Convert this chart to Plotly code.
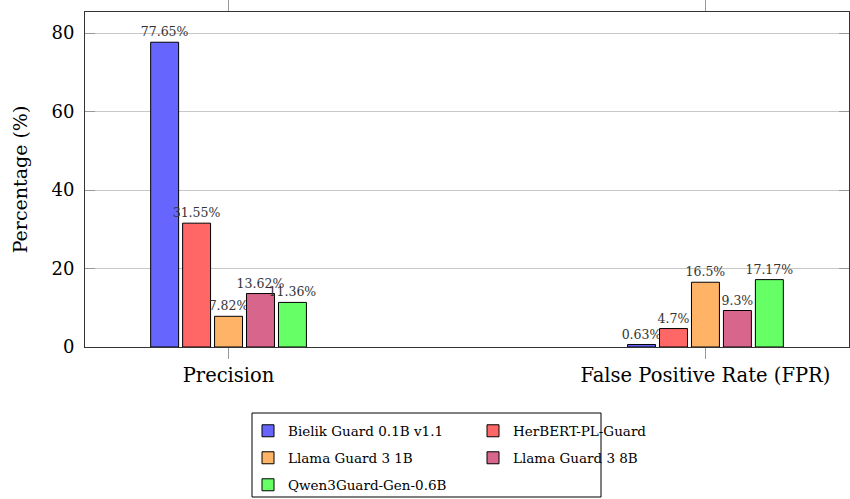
import plotly.graph_objects as go

categories = ["Precision", "False Positive Rate (FPR)"]
models = ["Bielik Guard 0.1B v1.1", "HerBERT-PL-Guard", "Llama Guard 3 1B", "Llama Guard 3 8B", "Qwen3Guard-Gen-0.6B"]
precision = [77.65, 31.55, 7.82, 13.62, 11.36]
fpr = [0.63, 4.7, 16.5, 9.3, 17.17]
colors = ["#6666FF", "#FF6666", "#FFB366", "#D8668C", "#66FF66"]
legend_rows = ["legend", "legend", "legend2", "legend2", "legend3"]

FONT = "DejaVu Serif"

fig = go.Figure()
for i, m in enumerate(models):
    vals = [precision[i], fpr[i]]
    fig.add_trace(go.Bar(
        x=[0, 1], y=vals, name=m, legend=legend_rows[i],
        marker=dict(color=colors[i], line=dict(color="black", width=1)),
        text=[f"{v:g}%" for v in vals], textposition="outside",
        textfont=dict(family=FONT, size=12.5, color="#333"),
        constraintext="none", cliponaxis=False,
    ))

W, H = 850, 499
L, R, T, B = 85, 1, 12, 152
pw, ph = W - L - R, H - T - B

def px2paper_x(px):
    return (px - L) / pw

def px2paper_y(py):
    return (H - B - py) / ph

leg_common = dict(
    orientation="h", xref="container", yref="container",
    xanchor="left", yanchor="middle", entrywidth=180,
    bgcolor="rgba(0,0,0,0)", borderwidth=0,
    font=dict(family=FONT, size=13.5), traceorder="normal",
)

fig.update_layout(
    width=W, height=H,
    margin=dict(l=L, r=R, t=T, b=B, autoexpand=False),
    paper_bgcolor="white", plot_bgcolor="white",
    barmode="group", bargap=0.665, bargroupgap=0.125,
    font=dict(family=FONT, color="black"),
    xaxis=dict(
        tickmode="array", tickvals=[0, 1], ticktext=categories,
        range=[-0.301, 1.301], showgrid=False, zeroline=False,
        ticks="outside", ticklen=11, tickcolor="#999", mirror="ticks",
        showline=True, linecolor="#333", linewidth=1,
        tickfont=dict(size=19.5), automargin=False,
    ),
    yaxis=dict(
        range=[0, 85.35], tickvals=[0, 20, 40, 60, 80],
        showgrid=True, gridcolor="#c8c8c8", zeroline=False,
        ticks="inside", ticklen=10, tickcolor="#999", mirror="ticks",
        showline=True, linecolor="#333", linewidth=1,
        tickfont=dict(size=18), automargin=False, ticklabelstandoff=6,
        title=dict(text="Percentage (%)", font=dict(size=19), standoff=18),
    ),
    legend=dict(leg_common, x=248 / W, y=1 - 431 / H),
    legend2=dict(leg_common, x=248 / W, y=1 - 458 / H),
    legend3=dict(leg_common, x=248 / W, y=1 - 485 / H),
    shapes=[dict(
        type="rect", xref="paper", yref="paper",
        x0=px2paper_x(252), x1=px2paper_x(601),
        y0=px2paper_y(497), y1=px2paper_y(413),
        line=dict(color="black", width=1), fillcolor="rgba(0,0,0,0)",
    )],
)

fig.write_html(
    "out.html",
    config={"responsive": False, "displayModeBar": False},
    post_script="document.body.style.margin='0';document.body.style.overflow='hidden';",
)
